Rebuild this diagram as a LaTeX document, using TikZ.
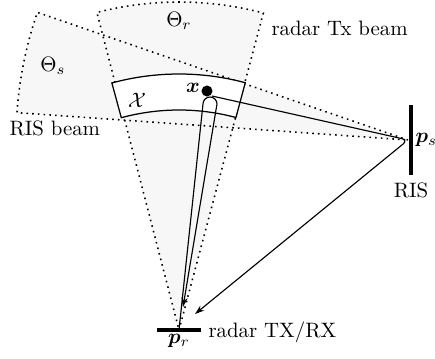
\documentclass[tikz,border=0pt]{standalone}
\usepackage{amsmath,bm}
\usetikzlibrary{arrows.meta}
\begin{document}
\begin{tikzpicture}[x=0.48pt,y=0.48pt,
  beamfill/.style={fill=gray!6},
  beamedge/.style={dotted, line width=0.75pt},
  ray/.style={line width=0.55pt},
  raytip/.style={-{Stealth[length=4.5pt,width=3pt]}},
  bar/.style={line width=2pt},
  lbl/.style={inner sep=1pt}]
\useasboundingbox (0,0) rectangle (435,358);
\coordinate (pr) at (179,28);
\coordinate (ps) at (408,218);
% beams
\fill[beamfill] (pr) -- ++(75.1:328) arc (75.1:104.5:328) -- cycle;
\fill[beamfill] (ps) -- ++(161:392) arc (161:176:392) -- cycle;
\draw[beamedge] (pr) -- ++(75.1:328) arc (75.1:104.5:328) -- cycle;
\draw[beamedge] (ps) -- ++(161:392) arc (161:176:392) -- cycle;
% region X
\draw[fill=white, line width=0.6pt] ([shift={(75:220)}]pr) -- ([shift={(75:256)}]pr)
  arc (75:105.2:256) -- ([shift={(105.2:220)}]pr) arc (105.2:75:220) -- cycle;
\node[lbl] (Xl) at (137,258) {$\mathcal{X}$};
% target
\node[circle, fill, inner sep=0pt, minimum size=5.3pt] (x) at (207,267) {};
\node[lbl] (xl) at (193,270) {$\bm{x}$};
% direct path
\coordinate (hl) at (203,254);
\coordinate (hr) at (217,254);
\coordinate (ret) at (183,51);
\draw[ray, raytip] (pr) -- (hl) arc (180:0:7) -- (ret);
% RIS path
\coordinate (xs) at (212,262);
\coordinate (ret2) at (195,44);
\draw[ray, raytip, rounded corners=3pt] (xs) -- (ps) -- (ret2);
% radar and RIS bars
\draw[bar] (157,28) coordinate (prl) -- (201,28) coordinate (prr);
\draw[bar] (411,253) coordinate (pst) -- (411,183) coordinate (psb);
% labels
\node[lbl, anchor=north] (prlab) at (179,26) {$\bm{p}_r$};
\node[lbl, anchor=base west] (rtx) at (206,21) {radar TX/RX};
\node[lbl, anchor=west] (pslab) at (413,218) {$\bm{p}_s$};
\node[lbl, anchor=base] (rislab) at (411,161) {RIS};
\node[lbl] (thr) at (179,337) {$\Theta_r$};
\node[lbl] (ths) at (53,292) {$\Theta_s$};
\node[lbl, anchor=base west] (rtxb) at (269,323) {radar Tx beam};
\node[lbl, anchor=base west] (risb) at (7,223) {RIS beam};
\end{tikzpicture}
\end{document}
